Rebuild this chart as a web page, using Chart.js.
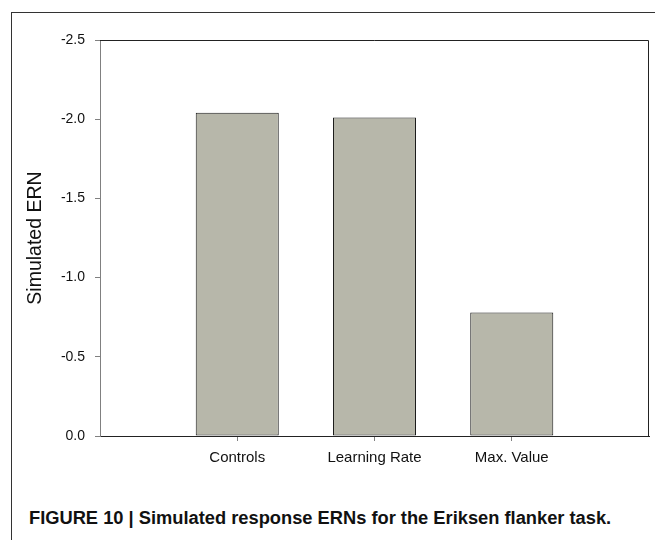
<!DOCTYPE html>
<html>
<head>
<meta charset="utf-8">
<script src="https://cdn.jsdelivr.net/npm/chart.js@4"></script>
<style>
  html, body { margin: 0; padding: 0; background: #fff; }
  #wrap { position: relative; width: 655px; height: 540px; overflow: hidden; }
  #frame {
    position: absolute; left: 11px; top: 12px; right: -2px; bottom: -2px;
    border-top: 1px solid #333; border-left: 1px solid #333;
  }
  #chartBox { position: absolute; left: 0; top: 0; width: 655px; height: 470px; }
  #caption {
    position: absolute; left: 29px; top: 507px;
    font: bold 18.3px "Liberation Sans", Arial, sans-serif; color: #111;
    white-space: nowrap;
  }
</style>
</head>
<body>
<div id="wrap">
  <div id="frame"></div>
  <div id="chartBox"><canvas id="myChart" width="655" height="470"></canvas></div>
  <div id="caption">FIGURE 10 | Simulated response ERNs for the Eriksen flanker task.</div>
</div>
<script>
var categories = ["Controls", "Learning Rate", "Max. Value"];
var ernValues = [-2.04, -2.01, -0.78];
var yTicks = [0, -0.5, -1.0, -1.5, -2.0, -2.5];

// top and right edges of the plot frame
var frameLines = {
  id: "frameLines",
  afterDraw: function (chart) {
    var a = chart.chartArea;
    var ctx = chart.ctx;
    ctx.save();
    ctx.strokeStyle = "#222";
    ctx.lineWidth = 1;
    ctx.beginPath();
    ctx.moveTo(a.left, a.top + 0.5);
    ctx.lineTo(a.right - 0.5, a.top + 0.5);
    ctx.lineTo(a.right - 0.5, a.bottom);
    ctx.stroke();
    ctx.restore();
  },
};

window.onload = function () {
  var points = categories.map(function (c, i) {
    return { x: i + 1, y: ernValues[i] };
  });

  var ctx = document.getElementById("myChart").getContext("2d");
  new Chart(ctx, {
    type: "bar",
    data: {
      datasets: [
        {
          label: "Simulated ERN",
          data: points,
          backgroundColor: "#b7b7aa",
          borderColor: "#1a1a1a",
          borderWidth: 1,
          borderSkipped: false,
          barPercentage: 1,
          categoryPercentage: 0.605,
        },
      ],
    },
    options: {
      responsive: false,
      animation: false,
      layout: { padding: { top: 40, right: 6, left: 0, bottom: 0 } },
      plugins: { legend: { display: false }, tooltip: { enabled: false } },
      scales: {
        x: {
          type: "linear",
          min: 0,
          max: 4,
          offset: false,
          grid: {
            offset: false,
            drawOnChartArea: false,
            drawTicks: true,
            tickLength: 5,
            color: "#808080",
          },
          border: { color: "#222" },
          afterBuildTicks: function (scale) {
            scale.ticks = categories.map(function (c, i) {
              return { value: i + 1 };
            });
          },
          afterFit: function (scale) {
            scale.height = 470 - 436;
          },
          ticks: {
            padding: 8,
            color: "#111",
            font: { family: "Liberation Sans, Arial", size: 15 },
            callback: function (v) {
              return categories[v - 1];
            },
          },
        },
        y: {
          min: -2.5,
          max: 0,
          reverse: true,
          grid: {
            drawOnChartArea: false,
            tickLength: 5,
            color: "#808080",
          },
          border: { color: "#808080" },
          afterBuildTicks: function (scale) {
            scale.ticks = yTicks.map(function (v) {
              return { value: v };
            });
          },
          afterFit: function (scale) {
            scale.width = 100;
          },
          ticks: {
            padding: 10,
            color: "#111",
            font: { family: "Liberation Sans, Arial", size: 14 },
            callback: function (v) {
              return Number(v).toFixed(1);
            },
          },
          title: {
            display: true,
            text: "Simulated ERN",
            color: "#111",
            font: { family: "Liberation Sans, Arial", size: 19.5 },
            padding: { top: 24 },
          },
        },
      },
    },
    plugins: [frameLines],
  });
};
</script>
</body>
</html>
